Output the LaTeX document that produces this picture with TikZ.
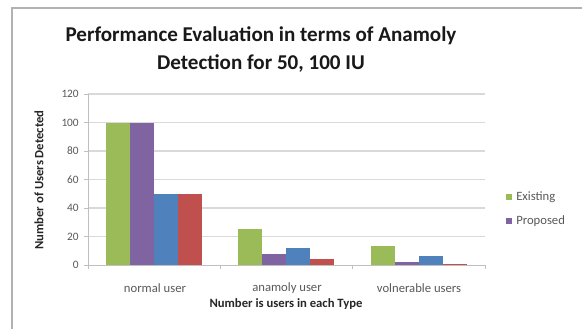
\documentclass[tikz,border=0pt]{standalone}
\usepackage{fontspec}
\setmainfont{Carlito}
\definecolor{cgreen}{HTML}{9BBB59}
\definecolor{cpurple}{HTML}{8064A2}
\definecolor{cblue}{HTML}{4F81BD}
\definecolor{cred}{HTML}{C0504D}
\definecolor{gridc}{HTML}{D9D9D9}
\definecolor{axisc}{HTML}{BFBFBF}
\definecolor{labc}{HTML}{595959}
\tikzset{
  gridline/.style={draw=gridc, line width=1pt},
  axisline/.style={draw=axisc, line width=0.7pt},
  ticklab/.style={font=\fontsize{8.5}{9}\selectfont, text=labc, inner sep=0pt},
  catlab/.style={font=\fontsize{9.5}{10}\selectfont, text=labc, inner sep=0pt},
  axtitle/.style={font=\bfseries\fontsize{9.5}{10}\selectfont, text=black!85, inner sep=0pt},
  legtext/.style={font=\fontsize{9.5}{10}\selectfont, text=labc, inner sep=0pt, anchor=west},
  charttitle/.style={font=\bfseries\fontsize{15.8}{21}\selectfont, text=black!90, align=center, inner sep=0pt},
}
\begin{document}
\begin{tikzpicture}[x=0.75pt,y=-0.75pt]
\useasboundingbox (0,0) rectangle (585,329);
\fill[white] (0,0) rectangle (585,329);
% frame (top and left edges visible)
\draw[gray!60, line width=1.4pt] (12,329) -- (12,8) -- (582,8);
% title
\node[charttitle] (title) at (261,50) {Performance Evaluation in terms of Anamoly\\Detection for 50, 100 IU};
% grid and y labels
\foreach \v in {20,40,...,120} {
  \draw[gridline] (88,{265-1.425*\v}) -- (485,{265-1.425*\v});
}
\foreach \v in {0,20,...,120} {
  \draw[axisline] (84,{265-1.425*\v}) -- (88,{265-1.425*\v});
  \node[ticklab, anchor=east] (yl\v) at (79,{265-1.425*\v}) {\v};
}
% bars
\foreach \c/\a/\b/\d/\e in {0/100/100/50/50, 1/25/8/12/4.5, 2/13/2/6/0.7} {
  \pgfmathsetmacro{\xs}{88+132.33*\c+18}
  \fill[cgreen]  (\xs,265) rectangle ({\xs+24},{265-1.425*\a});
  \fill[cpurple] ({\xs+24},265) rectangle ({\xs+48},{265-1.425*\b});
  \fill[cblue]   ({\xs+48},265) rectangle ({\xs+72},{265-1.425*\d});
  \fill[cred]    ({\xs+72},265) rectangle ({\xs+96},{265-1.425*\e});
}
% axes
\draw[axisline] (88,94) -- (88,265) -- (485,265);
\foreach \c in {0,1,2,3} {
  \draw[axisline] ({88+132.33*\c},265) -- ({88+132.33*\c},269);
}
% category labels
\node[catlab] (c1) at (155,288) {normal user};
\node[catlab] (c2) at (287,288) {anamoly user};
\node[catlab] (c3) at (419,288) {volnerable users};
% axis titles
\node[axtitle] (xt) at (286,304) {Number is users in each Type};
\node[axtitle, rotate=90] (yt) at (39,180) {Number of Users Detected};
% legend
\fill[cgreen] (506,194) rectangle (512,200);
\node[legtext] (l1) at (516,197) {Existing};
\fill[cpurple] (506,218) rectangle (512,224);
\node[legtext] (l2) at (516,221) {Proposed};
\end{tikzpicture}
\end{document}
